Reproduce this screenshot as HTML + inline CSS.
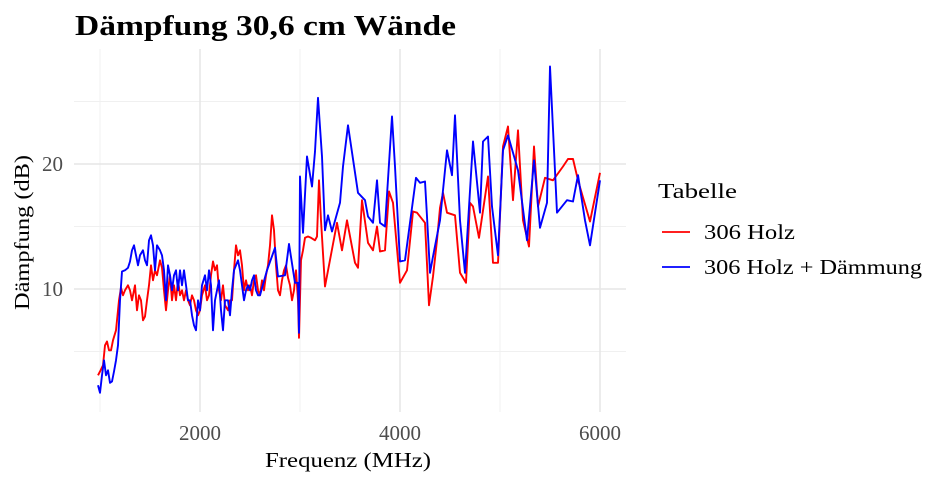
<!DOCTYPE html>
<html><head><meta charset="utf-8">
<style>
html,body{margin:0;padding:0;background:#fff;}
svg{display:block;font-family:"Liberation Serif",serif;}
</style></head>
<body>
<svg id="chart" width="946" height="481" viewBox="0 0 946 481">
<text x="75" y="35" font-size="29" font-weight="bold" fill="#000" textLength="381" lengthAdjust="spacingAndGlyphs">Dämpfung 30,6 cm Wände</text>
<g id="grid"></g>
<g id="series"></g>
<g id="axes"></g>
<text x="265" y="467" font-size="21" fill="#000" textLength="166" lengthAdjust="spacingAndGlyphs">Frequenz (MHz)</text>
<text transform="translate(29,310) rotate(-90)" font-size="21" fill="#000" textLength="155" lengthAdjust="spacingAndGlyphs">Dämpfung (dB)</text>
<g>
<text x="658" y="198" font-size="21" fill="#000" textLength="79" lengthAdjust="spacingAndGlyphs">Tabelle</text>
<g>
<line x1="662" y1="232" x2="690" y2="232" stroke="#ff0000" stroke-width="1.8"/>
<text x="704" y="239" font-size="21" fill="#000" textLength="91" lengthAdjust="spacingAndGlyphs">306 Holz</text></g>
<g>
<line x1="662" y1="267" x2="690" y2="267" stroke="#0000ff" stroke-width="1.8"/>
<text x="704" y="274" font-size="21" fill="#000" textLength="218" lengthAdjust="spacingAndGlyphs">306 Holz + Dämmung</text></g>
</g>
</svg>
<script>
const redFreq=[980,1000,1030,1050,1070,1090,1110,1130,1160,1190,1210,1230,1250,1280,1300,1320,1350,1370,1390,1410,1430,1450,1470,1490,1510,1530,1550,1570,1600,1620,1640,1660,1680,1700,1720,1740,1760,1780,1800,1820,1840,1860,1880,1900,1920,1940,1960,1980,2000,2020,2050,2070,2090,2110,2130,2150,2170,2190,2210,2230,2250,2280,2300,2320,2340,2360,2380,2400,2420,2440,2460,2480,2500,2520,2540,2560,2580,2600,2620,2640,2660,2680,2700,2720,2740,2760,2780,2800,2820,2840,2860,2880,2900,2920,2940,2960,2980,2990,3010,3030,3050,3080,3110,3150,3170,3190,3210,3250,3370,3420,3470,3550,3580,3620,3680,3730,3770,3800,3850,3890,3930,4000,4070,4130,4170,4250,4290,4330,4370,4400,4430,4470,4550,4600,4660,4700,4730,4790,4880,4930,4980,5030,5080,5130,5180,5230,5290,5340,5380,5450,5530,5630,5680,5730,5780,5900,6000];
const redDb=[3.1,3.4,3.9,5.5,5.8,5.1,5.1,5.9,6.7,9.1,10.1,9.5,9.9,10.3,9.9,9.1,10.3,8.3,9.5,9.1,7.5,7.8,9.1,10.3,11.9,10.7,11.5,11.1,12.3,11.7,9.9,8.3,9.9,11.1,9.1,10.3,9.1,10.7,9.5,9.9,9.1,9.9,9.1,8.7,9.5,9.1,8.3,7.9,8.3,9.5,10.3,9.1,9.5,11.1,12.2,11.5,11.9,9.9,9.1,10.3,8.7,8.3,9.1,9.1,11.5,13.5,12.7,13.1,11.9,9.9,10.7,9.9,10.3,9.5,10.7,11.1,9.9,9.5,10.7,9.9,11.1,11.9,13.5,15.9,14.7,11.9,9.9,9.5,10.7,11.5,11.9,10.9,10.3,9.1,9.9,11.5,9.1,6.1,12.3,13.1,14.1,14.2,14.1,13.9,14.2,18.7,15.5,10.2,15.3,13.1,15.5,12.1,11.7,17.1,13.7,13.1,15.0,13.0,13.1,17.8,16.9,10.5,11.5,16.2,16.1,15.3,8.7,11.0,13.9,16.5,17.7,16.1,15.9,11.3,10.5,16.9,16.6,14.1,19.0,12.1,12.1,21.4,23.0,17.1,22.7,15.5,13.4,21.4,16.6,18.9,18.7,19.8,20.4,20.4,18.7,15.4,19.3];
const blueFreq=[980,1000,1020,1040,1060,1080,1100,1120,1140,1160,1180,1200,1220,1250,1280,1300,1320,1340,1360,1380,1400,1430,1450,1470,1490,1510,1530,1550,1570,1600,1620,1640,1660,1680,1700,1720,1740,1760,1780,1800,1820,1840,1860,1880,1900,1920,1940,1960,1980,2000,2020,2050,2070,2090,2110,2130,2150,2170,2190,2210,2230,2250,2280,2300,2320,2340,2360,2380,2400,2420,2440,2460,2480,2500,2520,2540,2560,2580,2600,2670,2750,2780,2850,2890,2950,2980,2990,3000,3030,3070,3120,3150,3180,3220,3250,3280,3320,3400,3430,3480,3580,3650,3680,3730,3770,3800,3850,3920,3950,4000,4050,4160,4200,4250,4270,4300,4330,4400,4470,4520,4550,4600,4650,4730,4800,4830,4880,4920,4980,5030,5080,5180,5270,5340,5400,5470,5500,5570,5670,5730,5780,5850,5900,6000];
const blueDb=[2.3,1.7,3.1,4.3,3.1,3.5,2.5,2.6,3.4,4.3,5.5,9.1,11.4,11.5,11.7,12.2,13.1,13.5,12.7,11.9,12.7,13.1,12.3,11.9,13.9,14.3,13.5,11.5,13.5,13.1,12.7,11.5,9.1,11.9,11.1,9.9,11.1,11.5,9.9,11.5,10.3,11.5,10.3,9.1,9.1,7.9,7.1,6.7,9.1,8.3,10.3,11.1,9.9,11.5,10.3,6.7,9.1,9.9,10.7,8.3,6.7,9.1,9.1,7.9,9.9,11.5,11.9,12.3,11.5,10.3,9.1,9.9,10.3,9.9,10.7,11.1,9.9,9.5,9.5,11.5,13.3,11.0,11.1,13.6,10.5,10.5,6.5,19.0,14.5,20.6,18.2,21.0,25.3,20.6,14.7,15.9,14.6,16.9,19.8,23.1,17.7,17.1,15.8,15.3,18.7,15.3,15.0,23.8,19.8,12.2,12.3,18.9,18.5,18.6,15.8,11.3,12.6,15.5,21.1,19.1,23.9,15.5,11.3,21.8,16.1,21.8,22.2,16.6,12.7,21.1,22.3,19.5,13.9,20.3,14.9,16.9,27.8,16.1,17.1,17.0,19.1,15.5,13.5,18.7];
const xTicks=[2000,4000,6000];
const yTicks=[10,20];
const xMinor=[1000,3000,5000];
const yMinor=[5,15,25];

const NS='http://www.w3.org/2000/svg';
const L=74,R=626,T=49,B=412;
const X=v=>100+(v-1000)*0.1;
const Y=v=>414-v*12.5;
function mk(tag,attrs,parent){const e=document.createElementNS(NS,tag);for(const k in attrs)e.setAttribute(k,attrs[k]);parent.appendChild(e);return e;}
const grid=document.getElementById('grid'),axes=document.getElementById('axes'),ser=document.getElementById('series');
yMinor.forEach(v=>{const l=mk('line',{x1:L,x2:R,y1:Y(v),y2:Y(v),stroke:'#f0f0f0','stroke-width':1},grid);

});
xMinor.forEach(v=>{const l=mk('line',{x1:X(v),x2:X(v),y1:T,y2:B,stroke:'#f0f0f0','stroke-width':1},grid);

});
yTicks.forEach(v=>{const l=mk('line',{x1:L,x2:R,y1:Y(v),y2:Y(v),stroke:'#e6e6e6','stroke-width':1.5},grid);


const t=mk('text',{x:63,y:Y(v)+7,'text-anchor':'end','font-size':21,fill:'#4d4d4d'},axes);t.textContent=v;

});
xTicks.forEach(v=>{const l=mk('line',{x1:X(v),x2:X(v),y1:T,y2:B,stroke:'#e6e6e6','stroke-width':1.5},grid);


const t=mk('text',{x:X(v),y:440,'text-anchor':'middle','font-size':21,fill:'#4d4d4d'},axes);t.textContent=v;

});
function line(fx,fy,col,name){const d=fx.map((f,i)=>(i?'L':'M')+X(f).toFixed(1)+','+Y(fy[i]).toFixed(1)).join('');
const p=mk('path',{d:d,fill:'none',stroke:col,'stroke-width':1.9,'stroke-linejoin':'round'},ser);

}
line(redFreq,redDb,'#ff0000','line-306-holz');
line(blueFreq,blueDb,'#0000ff','line-306-holz-daemmung');
</script>
</body></html>
